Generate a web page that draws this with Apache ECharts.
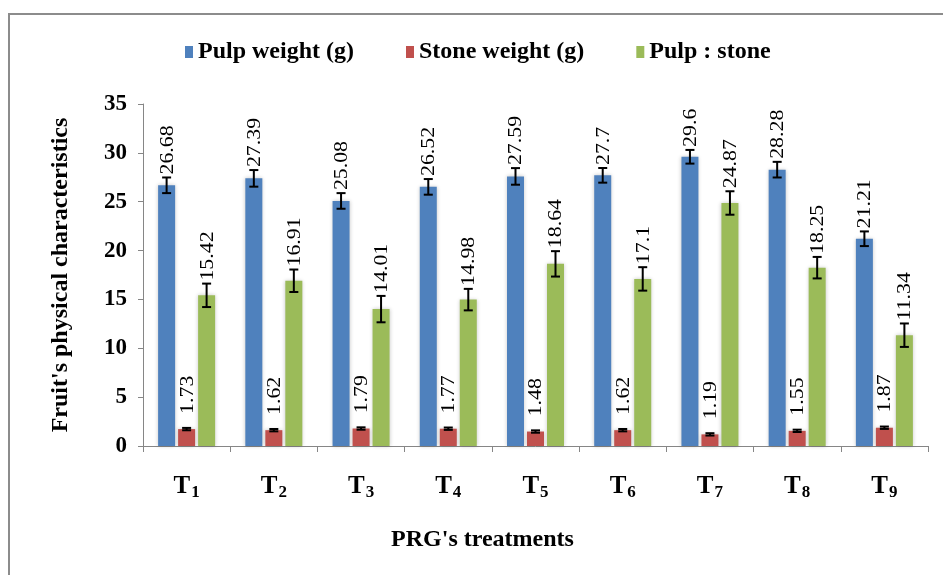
<!DOCTYPE html>
<html>
<head>
<meta charset="utf-8">
<script src="https://cdn.jsdelivr.net/npm/echarts@6/dist/echarts.min.js"></script>
<style>
html,body{margin:0;padding:0;background:#fff;}
#chart{width:943px;height:575px;}
</style>
</head>
<body>
<div id="chart"></div>
<script>
var categories = ['1','2','3','4','5','6','7','8','9'];
var seriesNames = ['Pulp weight (g)', 'Stone weight (g)', 'Pulp : stone'];
var pulpWeight = [26.68, 27.39, 25.08, 26.52, 27.59, 27.7, 29.6, 28.28, 21.21];
var stoneWeight = [1.73, 1.62, 1.79, 1.77, 1.48, 1.62, 1.19, 1.55, 1.87];
var pulpStone = [15.42, 16.91, 14.01, 14.98, 18.64, 17.1, 24.87, 18.25, 11.34];
var pulpErr = [0.8, 0.85, 0.8, 0.8, 0.85, 0.75, 0.7, 0.8, 0.75];
var stoneErr = [0.12, 0.12, 0.12, 0.12, 0.12, 0.12, 0.12, 0.12, 0.12];
var ratioErr = [1.2, 1.15, 1.35, 1.1, 1.3, 1.2, 1.2, 1.1, 1.2];
var yTicks = [0, 5, 10, 15, 20, 25, 30, 35];

var values = [pulpWeight, stoneWeight, pulpStone];
var errs = [pulpErr, stoneErr, ratioErr];
var colors = ['#4F81BD', '#C0504D', '#9BBB59'];
var FONT = '"Liberation Serif", "Times New Roman", serif';
var BAR_W = 17, BAR_GAP = 3;
var labelGap = [3, 14, 3];

var chart = echarts.init(document.getElementById('chart'));

var series = [];
seriesNames.forEach(function (name, si) {
  series.push({
    name: name,
    type: 'bar',
    data: values[si],
    barWidth: BAR_W,
    barGap: (BAR_GAP / BAR_W * 100) + '%',
    itemStyle: { color: colors[si], shadowColor: 'rgba(0,0,0,0.22)', shadowBlur: 4 },
    z: 2
  });
});
seriesNames.forEach(function (name, si) {
  var d = values[si].map(function (v, i) { return [i, v, errs[si][i]]; });
  series.push({
    type: 'custom',
    name: name + ' err',
    data: d,
    z: 5,
    silent: true,
    renderItem: function (params, api) {
      var ci = api.value(0), v = api.value(1), e = api.value(2);
      var c = api.coord([ci, v]);
      var x = c[0] + (si - 1) * (BAR_W + BAR_GAP);
      var yHi = api.coord([ci, v + e])[1];
      var yLo = api.coord([ci, v - e])[1];
      var cap = 4.5;
      var st = { stroke: '#000', lineWidth: 2 };
      return {
        type: 'group',
        children: [
          { type: 'line', shape: { x1: x, y1: yHi, x2: x, y2: yLo }, style: st },
          { type: 'line', shape: { x1: x - cap, y1: yHi, x2: x + cap, y2: yHi }, style: st },
          { type: 'line', shape: { x1: x - cap, y1: yLo, x2: x + cap, y2: yLo }, style: st },
          {
            type: 'text',
            x: x + 1, y: yHi - labelGap[si],
            rotation: Math.PI / 2,
            scaleX: 1.15,
            style: {
              text: String(v),
              fill: '#000',
              font: '19px ' + FONT,
              textAlign: 'left',
              textVerticalAlign: 'middle'
            }
          }
        ]
      };
    }
  });
});

chart.setOption({
  animation: false,
  backgroundColor: '#fff',
  graphic: [
    { type: 'polyline', shape: { points: [[9, 575], [9, 14], [943, 14]] },
      style: { stroke: '#8c8c8c', lineWidth: 2, fill: null } }
  ],
  legend: {
    data: seriesNames,
    top: 35,
    left: 180,
    itemWidth: 8,
    itemHeight: 12,
    itemGap: 52,
    icon: 'rect',
    textStyle: { fontFamily: FONT, fontWeight: 'bold', fontSize: 24, color: '#000' }
  },
  grid: { left: 143, right: 15, top: 104, bottom: 129 },
  xAxis: {
    type: 'category',
    data: categories,
    name: "PRG's treatments",
    nameLocation: 'middle',
    nameGap: 82,
    nameTextStyle: { fontFamily: FONT, fontWeight: 'bold', fontSize: 24, color: '#000', padding: [0, 106, 0, 0] },
    axisLine: { lineStyle: { color: '#868686', width: 1 } },
    axisTick: { show: true, length: 6, lineStyle: { color: '#868686' } },
    axisLabel: {
      margin: 26,
      formatter: function (v) { return '{t|T}{s|' + v + '}'; },
      rich: {
        t: { fontFamily: FONT, fontWeight: 'bold', fontSize: 25, color: '#000' },
        s: { fontFamily: FONT, fontWeight: 'bold', fontSize: 17, color: '#000', padding: [12, 0, 0, 1] }
      }
    }
  },
  yAxis: {
    type: 'value',
    min: 0, max: 35, interval: 5,
    name: "Fruit's physical characteristics",
    nameLocation: 'middle',
    nameGap: 70,
    nameTextStyle: { fontFamily: FONT, fontWeight: 'bold', fontSize: 24, color: '#000' },
    axisLine: { show: true, lineStyle: { color: '#868686', width: 1 } },
    axisTick: { show: true, length: 5, lineStyle: { color: '#868686' } },
    splitLine: { show: false },
    axisLabel: {
      margin: 16,
      fontFamily: FONT, fontWeight: 'bold', fontSize: 23, color: '#000',
      formatter: function (v) { return yTicks.indexOf(v) >= 0 ? String(v) : ''; }
    }
  },
  series: series
});
</script>
</body>
</html>
